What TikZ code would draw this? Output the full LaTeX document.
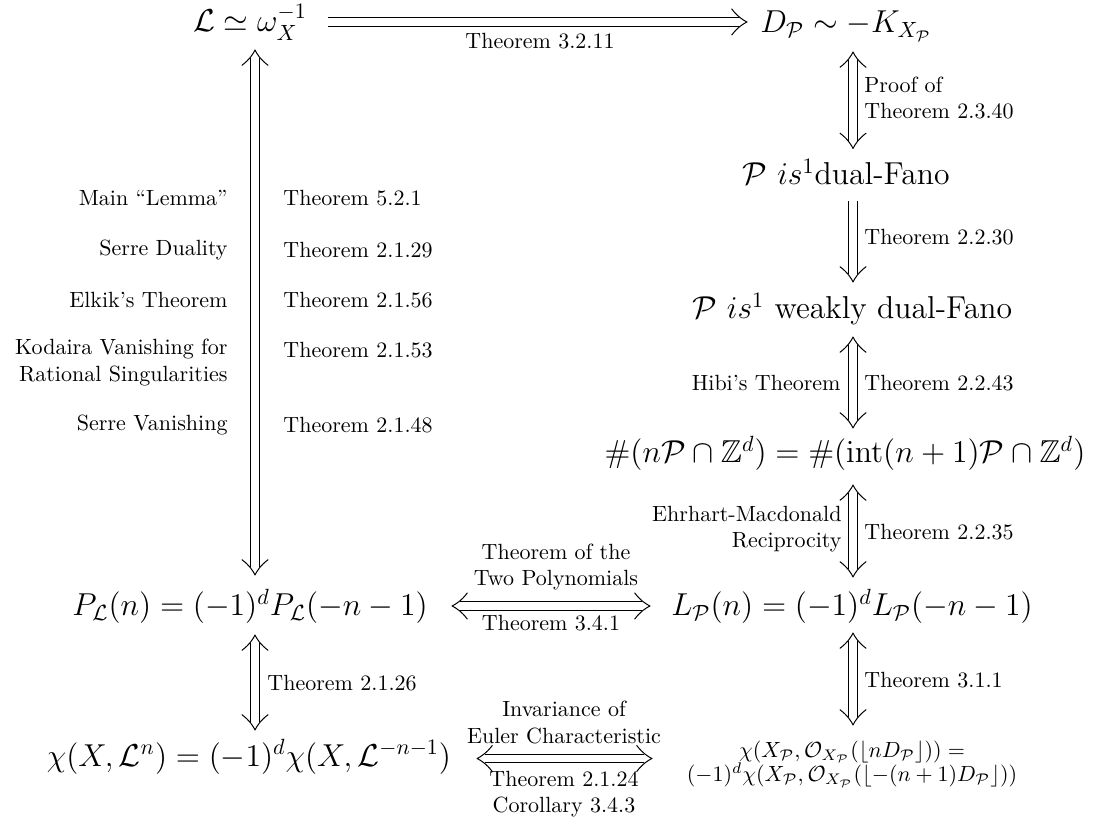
\documentclass[tikz,border=0pt]{standalone}
\usepackage{amsmath,amssymb}
\usetikzlibrary{calc}
\begin{document}
\begin{tikzpicture}[x=0.4545pt,y=-0.4545pt,
  main/.style={inner sep=0pt, anchor=base, font=\Large},
  lab/.style={inner sep=0pt, font=\normalsize},
  shaft/.style={double, double distance=3.4pt, line width=0.45pt},
  hdend/.style={shorten >=3.6pt},
  hdstart/.style={shorten <=3.6pt},
  hd/.pic={\draw[line width=0.45pt, line join=round]
     (-7pt,6pt) .. controls (-4.5pt,2.6pt) and (-1.6pt,0.7pt) .. (0pt,0pt)
     .. controls (-1.6pt,-0.7pt) and (-4.5pt,-2.6pt) .. (-7pt,-6pt);},
]
\useasboundingbox (0,0) rectangle (1098,823);
\coordinate (colL) at (255,0);
\coordinate (colR) at (853,0);
% main nodes
\node[main] (tl) at (250,31.5) {$\mathcal{L}\simeq\omega_X^{-1}$};
\node[main] (tr) at (846,33) {$D_{\mathcal{P}}\sim -K_{X_{\mathcal{P}}}$};
\node[main] (df) at (846,185) {$\mathcal{P}\ is^1$dual-Fano};
\node[main] (wk) at (852,319) {$\mathcal{P}\ is^1$ weakly dual-Fano};
\node[main] (hs) at (845,463) {$\#(n\mathcal{P}\cap\mathbb{Z}^d)=\#(\operatorname{int}(n+1)\mathcal{P}\cap\mathbb{Z}^d)$};
\node[main] (pl) at (250,615.5) {$P_{\mathcal{L}}(n)=(-1)^dP_{\mathcal{L}}(-n-1)$};
\node[main] (lp) at (852,615.5) {$L_{\mathcal{P}}(n)=(-1)^dL_{\mathcal{P}}(-n-1)$};
\node[main] (cl) at (249,766) {$\chi(X,\mathcal{L}^n)=(-1)^d\chi(X,\mathcal{L}^{-n-1})$};
\node[lab, align=center] (cp) at (852,764) {$\chi(X_{\mathcal{P}},\mathcal{O}_{X_{\mathcal{P}}}(\lfloor nD_{\mathcal{P}}\rfloor))=$\\[-1pt]$(-1)^d\chi(X_{\mathcal{P}},\mathcal{O}_{X_{\mathcal{P}}}(\lfloor -(n+1)D_{\mathcal{P}}\rfloor))$};
% arrow end points, attached to the nodes
\coordinate (e1a) at ($(tl.base)+(78,-9.5)$);
\coordinate (e1b) at ($(tr.base)+(-99,-11)$);
\coordinate (e2a) at ($(tr.base -| colR)+(0,19)$);
\coordinate (e2b) at ($(df.base -| colR)+(0,-36.5)$);
\coordinate (e3a) at ($(df.base -| colR)+(0,16)$);
\coordinate (e3b) at ($(wk.base -| colR)+(0,-37)$);
\coordinate (e4a) at ($(wk.base -| colR)+(0,18)$);
\coordinate (e4b) at ($(hs.base -| colR)+(0,-35)$);
\coordinate (e5a) at ($(hs.base -| colR)+(0,22)$);
\coordinate (e5b) at ($(lp.base -| colR)+(0,-38.5)$);
\coordinate (e6a) at ($(lp.base -| colR)+(0,17.5)$);
\coordinate (e6b) at ($(cp.center -| colR)+(0,-39)$);
\coordinate (e7a) at ($(tl.base -| colL)+(0,18.5)$);
\coordinate (e7b) at ($(pl.base -| colL)+(0,-40.5)$);
\coordinate (e8a) at ($(pl.base -| colL)+(0,19.5)$);
\coordinate (e8b) at ($(cl.base -| colL)+(0,-36)$);
\coordinate (e9a) at ($(pl.base)+(202,-9.5)$);
\coordinate (e9b) at ($(lp.base)+(-202,-9.5)$);
\coordinate (e10a) at ($(cl.base)+(228,-7.5)$);
\coordinate (e10b) at ($(cp.center)+(-200,-5.5)$);
% shafts
\draw[shaft, hdend] (e1a) -- (e1b);
\draw[shaft, hdend] (e3a) -- (e3b);
\foreach \i in {2,4,5,6,7,8,9,10} {\draw[shaft, hdstart, hdend] (e\i a) -- (e\i b);}
% heads
\pic[rotate=0] at (e1b) {hd};
\pic[rotate=90] at (e2a) {hd};  \pic[rotate=-90] at (e2b) {hd};
\pic[rotate=-90] at (e3b) {hd};
\pic[rotate=90] at (e4a) {hd};  \pic[rotate=-90] at (e4b) {hd};
\pic[rotate=90] at (e5a) {hd};  \pic[rotate=-90] at (e5b) {hd};
\pic[rotate=90] at (e6a) {hd};  \pic[rotate=-90] at (e6b) {hd};
\pic[rotate=90] at (e7a) {hd};  \pic[rotate=-90] at (e7b) {hd};
\pic[rotate=90] at (e8a) {hd};  \pic[rotate=-90] at (e8b) {hd};
\pic[rotate=180] at (e9a) {hd}; \pic[rotate=0] at (e9b) {hd};
\pic[rotate=180] at (e10a) {hd}; \pic[rotate=0] at (e10b) {hd};
% labels
\node[lab] (l1) at (540,41) {Theorem 3.2.11};
\node[lab, anchor=west, align=left] (l2) at (864,98) {Proof of\\Theorem 2.3.40};
\node[lab, anchor=west] (l3) at (864,237) {Theorem 2.2.30};
\node[lab, anchor=east] (l4a) at (841,383) {Hibi’s Theorem};
\node[lab, anchor=west] (l4b) at (864,383) {Theorem 2.2.43};
\node[lab, anchor=east, align=right] (l5a) at (842,529) {Ehrhart-Macdonald\\Reciprocity};
\node[lab, anchor=west] (l5b) at (864,532) {Theorem 2.2.35};
\node[lab, anchor=west] (l6) at (864,680) {Theorem 3.1.1};
\node[lab, anchor=west] (l7) at (267,683) {Theorem 2.1.26};
\node[lab, align=center] (l8a) at (556,567) {Theorem of the\\Two Polynomials};
\node[lab] (l8b) at (551,623) {Theorem 3.4.1};
\node[lab, align=center] (l9a) at (564,722.5) {Invariance of\\Euler Characteristic};
\node[lab, align=center] (l9b) at (564,794) {Theorem 2.1.24\\Corollary 3.4.3};
% left column labels
\node[lab, anchor=east] (a1) at (228,198) {Main “Lemma”};
\node[lab, anchor=east] (a2) at (228,250) {Serre Duality};
\node[lab, anchor=east] (a3) at (228,300) {Elkik’s Theorem};
\node[lab, anchor=east, align=right] (a4) at (228,362.5) {Kodaira Vanishing for\\Rational Singularities};
\node[lab, anchor=east] (a5) at (228,425) {Serre Vanishing};
\node[lab, anchor=west] (b1) at (283,198) {Theorem 5.2.1};
\node[lab, anchor=west] (b2) at (283,250) {Theorem 2.1.29};
\node[lab, anchor=west] (b3) at (283,300) {Theorem 2.1.56};
\node[lab, anchor=west] (b4) at (283,350) {Theorem 2.1.53};
\node[lab, anchor=west] (b5) at (283,425) {Theorem 2.1.48};
\end{tikzpicture}
\end{document}
